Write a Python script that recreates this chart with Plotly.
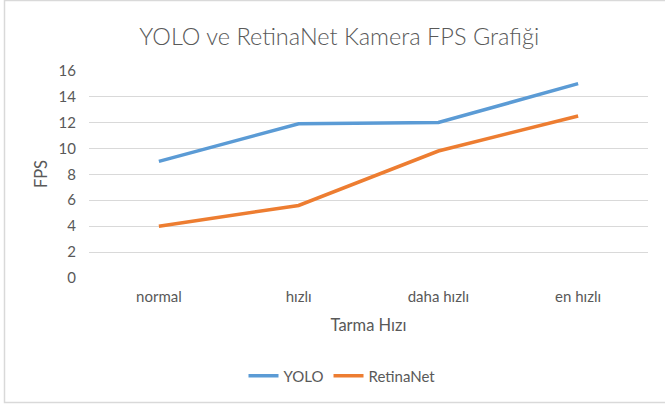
import plotly.graph_objs as go

categories = ["normal", "hızlı", "daha hızlı", "en hızlı"]
yolo_fps = [9.0, 11.9, 12.0, 15.0]
retinanet_fps = [4.0, 5.6, 9.8, 12.5]
y_ticks = [0, 2, 4, 6, 8, 10, 12, 14, 16]

font_name = "Lato"
grey_text = "#595959"

traces = []
traces.append(go.Scatter(x=categories, y=yolo_fps, name="YOLO", mode="lines",
                         line=dict(color="#5B9BD5", width=3.5)))
traces.append(go.Scatter(x=categories, y=retinanet_fps, name="RetinaNet", mode="lines",
                         line=dict(color="#ED7D31", width=3.5)))

layout = go.Layout(
    width=665, height=408,
    paper_bgcolor="white", plot_bgcolor="white",
    margin=dict(l=89, r=17, t=70, b=130),
    font=dict(family=font_name, color=grey_text, size=15),
    title=dict(text="YOLO ve RetinaNet Kamera FPS Grafiği", x=0.51, xanchor="center",
               y=0.909, yanchor="middle",
               font=dict(size=23.5, color=grey_text, weight=300)),
    xaxis=dict(title=dict(text="Tarma Hızı", font=dict(size=16.5), standoff=15),
               showgrid=False, showline=False, zeroline=False, ticks="",
               range=[-0.5, 3.5], tickfont=dict(size=15), ticklabelstandoff=8,
               automargin=True),
    yaxis=dict(title=dict(text="FPS", font=dict(size=16.5), standoff=6), range=[0, 16.05],
               tickvals=y_ticks, showgrid=True, gridcolor="#D9D9D9", gridwidth=1,
               zeroline=False, showline=False, ticks="", ticklabelstandoff=12,
               tickfont=dict(size=15), automargin=True),
    legend=dict(orientation="h", x=0.4526, xanchor="center", y=-0.471, yanchor="middle",
                font=dict(size=15), itemwidth=30),
    showlegend=True,
    shapes=[dict(type="rect", xref="paper", yref="paper",
                 x0=(4.5 - 89) / 559, x1=(668 - 89) / 559,
                 y0=(278 - 402.5) / 208, y1=(278 - 0.5) / 208,
                 line=dict(color="#D9D9D9", width=1.5), layer="below")],
)

fig = go.Figure(data=traces, layout=layout)
fig.write_html("out.html", config={"displayModeBar": False},
               post_script="document.body.style.margin='0';")
